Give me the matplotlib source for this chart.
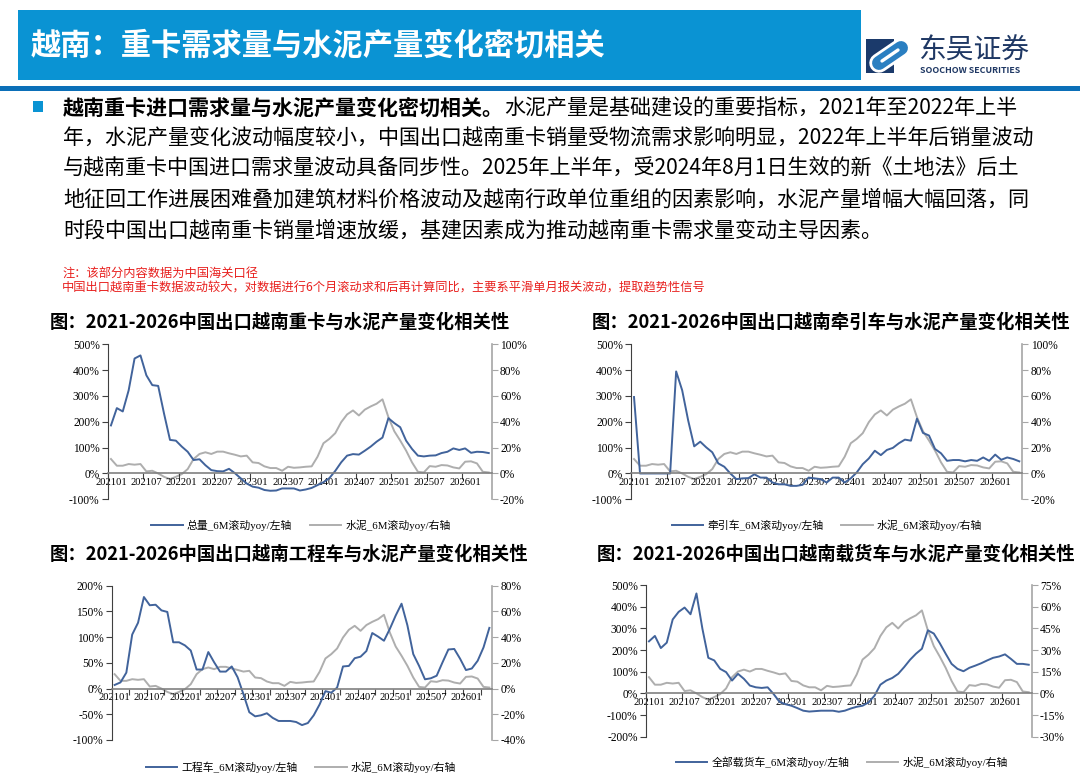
import matplotlib
matplotlib.use("Agg")
import matplotlib.pyplot as plt
from matplotlib.font_manager import FontProperties
from matplotlib.patches import Rectangle

plt.rcParams['font.family'] = ['Noto Sans CJK SC', 'DejaVu Sans']
plt.rcParams['axes.unicode_minus'] = False

W, H = 1080, 779

# --- 数据 (从图上读取, 6M滚动同比, %) ---
months = [f"{y}{m:02d}" for y in range(2021, 2027) for m in range(1, 13)][:65]

cement = [11.2, 6.0, 6.0, 7.3, 6.8, 7.3, 1.6, 2.1, 0.0, -2.6,
          -4.4, -2.6, -0.5, 3.4, 11.2, 15.1, 16.4, 15.1, 16.9, 16.9,
          15.6, 14.5, 13.2, 13.8, 8.6, 8.1, 5.5, 4.2, 4.2, 2.1,
          5.2, 4.4, 4.7, 5.2, 5.5, 13.0, 23.4, 26.8, 31.2, 39.7,
          45.7, 48.8, 44.9, 49.4, 51.9, 54.0, 57.4, 43.6, 32.7, 25.5,
          17.7, 8.6, 1.3, 0.8, 5.7, 5.2, 6.5, 6.2, 4.7, 3.9,
          9.1, 9.4, 7.8, 1.3, 0.8]

total = [186, 253, 240, 322, 445, 457, 380, 342, 339, 231,
         130, 127, 104, 84, 52, 55, 32, 13, 9, 8,
         18, 1, -19, -39, -51, -55, -64, -67, -66, -58,
         -58, -58, -66, -62, -56, -45, -34, -18, 10, 43,
         69, 75, 73, 88, 104, 123, 139, 214, 195, 179,
         127, 95, 69, 66, 69, 70, 79, 84, 97, 91,
         97, 80, 84, 83, 79]

tractor = [296, 0, 0, 0, 0, 0, 0, 395, 322, 205,
           105, 123, 101, 82, 39, 26, 0, -22, -19, -18,
           -3, -16, -16, -35, -42, -42, -48, -48, -44, -16,
           -19, -22, -35, -16, -16, -35, -19, 4, 36, 58,
           88, 71, 91, 99, 117, 131, 127, 212, 157, 147,
           95, 78, 49, 52, 52, 47, 52, 49, 62, 49,
           73, 53, 62, 56, 47]

engineering = [7, 12, 31, 105, 128, 178, 162, 163, 152, 149,
               90, 90, 84, 74, 37, 37, 71, 51, 33, 33,
               43, 22, -11, -46, -54, -52, -48, -57, -63, -63,
               -63, -65, -71, -67, -52, -31, -5, -8, 2, 43,
               44, 59, 62, 73, 108, 101, 93, 116, 142, 165,
               123, 67, 44, 18, 20, 25, 51, 76, 77, 58,
               36, 39, 54, 80, 118]

cargo = [240, 265, 209, 234, 341, 376, 396, 365, 461, 299,
         164, 152, 113, 98, 59, 90, 67, 36, 28, 25,
         28, -3, -39, -50, -57, -68, -80, -84, -82, -80,
         -80, -80, -85, -80, -70, -62, -57, -42, -11, 40,
         59, 71, 90, 121, 155, 183, 206, 291, 276, 232,
         183, 136, 113, 102, 118, 128, 139, 152, 164, 170,
         180, 159, 136, 136, 132]

BLUE = '#41639B'
GRAY = '#AEAEAE'
HEAD = '#0A93D3'

legend_font = FontProperties(family=['Liberation Serif', 'Noto Sans CJK SC'], size=7.8)

fig = plt.figure(figsize=(W / 100, H / 100), dpi=100)

# 背景层, 像素坐标
bg = fig.add_axes([0, 0, 1, 1])
bg.set_xlim(0, W)
bg.set_ylim(H, 0)
bg.axis('off')

# 标题栏
bg.add_patch(Rectangle((18, 10), 843, 70, color=HEAD, lw=0))
bg.text(31, 46, "越南：重卡需求量与水泥产量变化密切相关", color='white',
        fontsize=21.8, fontweight='bold', va='center', ha='left')
bg.add_patch(Rectangle((0, 86), W, 5, color='#0B6FB8', lw=0))

# 东吴证券 logo (简化)
bg.add_patch(Rectangle((866, 39), 28, 34, color='#1B3A6B', lw=0))
bg.plot([879, 901], [63, 48], color='white', lw=14, solid_capstyle='round')
bg.plot([879, 901], [63, 48], color='#2A7FC1', lw=10, solid_capstyle='round')
bg.plot([882, 898], [61, 50], color='white', lw=2.4, solid_capstyle='round')
bg.text(918, 51, "东吴证券", color='#1F3864', fontsize=20, va='center', ha='left')
bg.text(920, 70, "SOOCHOW SECURITIES", color='#1F3864', fontsize=6.4,
        fontweight='bold', va='center', ha='left')

# 正文
bg.add_patch(Rectangle((33, 101), 10, 11, color=HEAD, lw=0))
fig.canvas.draw()
renderer = fig.canvas.get_renderer()
fs = 15.15
t0 = bg.text(63, 108, "越南重卡进口需求量与水泥产量变化密切相关。", fontsize=fs,
             fontweight='bold', va='center', ha='left', color='black')
bb = t0.get_window_extent(renderer)
x_next = bb.x1 * W / fig.bbox.width
bg.text(x_next, 108, "水泥产量是基础建设的重要指标，2021年至2022年上半", fontsize=fs,
        va='center', ha='left', color='black')
body = [
    "年，水泥产量变化波动幅度较小，中国出口越南重卡销量受物流需求影响明显，2022年上半年后销量波动",
    "与越南重卡中国进口需求量波动具备同步性。2025年上半年，受2024年8月1日生效的新《土地法》后土",
    "地征回工作进展困难叠加建筑材料价格波动及越南行政单位重组的因素影响，水泥产量增幅大幅回落，同",
    "时段中国出口越南重卡销量增速放缓，基建因素成为推动越南重卡需求量变动主导因素。",
]
for i, line in enumerate(body):
    bg.text(63, 138.5 + 30.5 * i, line, fontsize=fs, va='center', ha='left', color='black')

bg.text(62, 273, "注：该部分内容数据为中国海关口径", fontsize=8.8, color='#E8201E',
        va='center', ha='left')
bg.text(62, 288, "中国出口越南重卡数据波动较大，对数据进行6个月滚动求和后再计算同比，主要系平滑单月报关波动，提取趋势性信号",
        fontsize=8.8, color='#E8201E', va='center', ha='left')

# 图标题
titles = [
    (50, 322, "图：2021-2026中国出口越南重卡与水泥产量变化相关性"),
    (592, 322, "图：2021-2026中国出口越南牵引车与水泥产量变化相关性"),
    (50, 554, "图：2021-2026中国出口越南工程车与水泥产量变化相关性"),
    (597, 554, "图：2021-2026中国出口越南载货车与水泥产量变化相关性"),
]
for x, y, s in titles:
    bg.text(x, y, s, fontsize=13.2, fontweight='bold', va='center', ha='left')


def px_rect(l, r, t, b):
    return [l / W, 1 - b / H, (r - l) / W, (b - t) / H]


def draw_panel(rect, series, name, lyl, lticks, ryl, rticks, leg_xy, tick_step=6):
    ax = fig.add_axes(rect)
    axr = ax.twinx()
    x = [k + 0.5 for k in range(len(series))]
    lr, = axr.plot(x, cement, color=GRAY, lw=1.4)
    lb, = ax.plot(x, series, color=BLUE, lw=1.4)
    ax.set_zorder(axr.get_zorder() + 1)
    ax.patch.set_visible(False)

    ax.set_xlim(0, 65)
    ax.set_ylim(*lyl)
    axr.set_ylim(*ryl)
    ax.set_yticks(lticks, [f"{v}%" for v in lticks])
    axr.set_yticks(rticks, [f"{v}%" for v in rticks])

    major = list(range(0, 64, tick_step))
    ax.set_xticks(major, [''] * len(major))
    label_pos = [k + 0.5 for k in range(0, 61, 6)]
    ax.set_xticks(label_pos, [months[k] for k in range(0, 61, 6)], minor=True)

    ax.tick_params(axis='x', which='major', length=4, direction='out', color='#404040')
    ax.tick_params(axis='x', which='minor', length=0, pad=3, labelsize=7.6,
                   labelfontfamily='Liberation Serif')
    ax.tick_params(axis='y', length=4, direction='out', color='#404040', pad=2,
                   labelsize=8.3, labelfontfamily='Liberation Serif')
    axr.tick_params(axis='y', length=4, direction='out', color='#A6A6A6', pad=2,
                    labelsize=8.3, labelfontfamily='Liberation Serif')

    for sp in ['top', 'right']:
        ax.spines[sp].set_visible(False)
    ax.spines['bottom'].set_position(('data', 0))
    ax.spines['bottom'].set_color('#808080')
    ax.spines['bottom'].set_linewidth(1.2)
    ax.spines['left'].set_color('#404040')
    for sp in ['top', 'left', 'bottom']:
        axr.spines[sp].set_visible(False)
    axr.spines['right'].set_color('#A6A6A6')
    axr.spines['right'].set_linewidth(1.2)

    fig.legend([lb, lr], [name, "水泥_6M滚动yoy/右轴"], loc='center',
               bbox_to_anchor=(leg_xy[0] / W, 1 - leg_xy[1] / H), ncol=2,
               frameon=False, prop=legend_font, handlelength=2.9,
               handletextpad=0.4, columnspacing=1.6)


draw_panel(px_rect(108, 491.7, 344.3, 499.3), total, "总量_6M滚动yoy/左轴",
           (-100, 500), range(-100, 501, 100), (-20, 100), range(-20, 101, 20), (301, 525))
draw_panel(px_rect(631, 1022.3, 344.3, 499.3), tractor, "牵引车_6M滚动yoy/左轴",
           (-100, 500), range(-100, 501, 100), (-20, 100), range(-20, 101, 20), (827, 525))
draw_panel(px_rect(111.7, 492.3, 585.7, 740), engineering, "工程车_6M滚动yoy/左轴",
           (-100, 200), range(-100, 201, 50), (-40, 80), range(-40, 81, 20), (301, 767),
           tick_step=3)
draw_panel(px_rect(646, 1031.7, 585, 736.7), cargo, "全部载货车_6M滚动yoy/左轴",
           (-200, 500), range(-200, 501, 100), (-30, 75), range(-30, 76, 15), (842, 762))

fig.savefig("out.png", dpi=100)
